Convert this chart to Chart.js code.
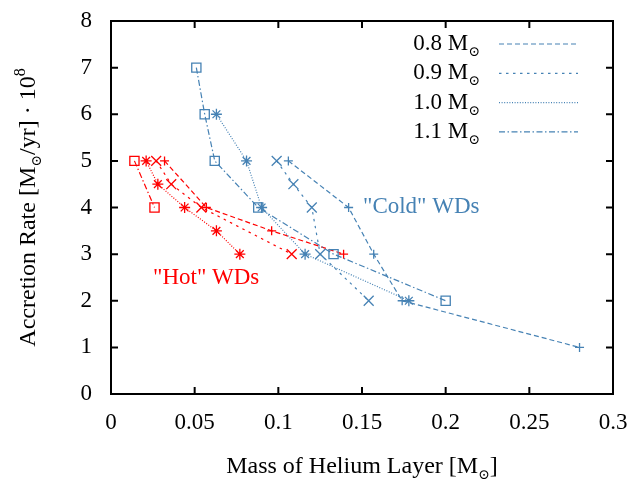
<!DOCTYPE html>
<html>
<head>
<meta charset="utf-8">
<script src="https://cdn.jsdelivr.net/npm/chart.js@4.4.1/dist/chart.umd.min.js"></script>
<style>
  body { margin: 0; background: #fff; }
</style>
</head>
<body>
<canvas id="plot" width="643" height="479"></canvas>
<script>
// Helium layer mass [Msun] vs accretion rate [1e-8 Msun/yr]
// "cold" white dwarfs
const cold08_x = [0.106, 0.142, 0.157, 0.174, 0.280];
const cold08_y = [5, 4, 3, 2, 1];
const cold09_x = [0.099, 0.109, 0.120, 0.125, 0.154];
const cold09_y = [5, 4.5, 4, 3, 2];
const cold10_x = [0.063, 0.081, 0.090, 0.116, 0.178];
const cold10_y = [6, 5, 4, 3, 2];
const cold11_x = [0.051, 0.056, 0.062, 0.088, 0.133, 0.200];
const cold11_y = [7, 6, 5, 4, 3, 2];

// "hot" white dwarfs
const hot08_x = [0.032, 0.057, 0.096, 0.139];
const hot08_y = [5, 4, 3.5, 3];
const hot09_x = [0.027, 0.036, 0.054, 0.108];
const hot09_y = [5, 4.5, 4, 3];
const hot10_x = [0.021, 0.028, 0.044, 0.063, 0.077];
const hot10_y = [5, 4.5, 4, 3.5, 3];
const hot11_x = [0.014, 0.026];
const hot11_y = [5, 4];

const masses = ['0.8', '0.9', '1.0', '1.1'];
const xTicks = [0, 0.05, 0.1, 0.15, 0.2, 0.25, 0.3];
const yTicks = [0, 1, 2, 3, 4, 5, 6, 7, 8];

const FONT = "'Liberation Serif', 'DejaVu Serif', serif";
const FS = 23;
const SUN = '\u2299';
const BLUE = '#4682b4';
const RED = '#ff0000';

// line/point style per white dwarf mass
const styles = {
  '0.8': { dash: [5, 3], point: 'cross', r: 4.5 },
  '0.9': { dash: [2.5, 4.5], point: 'crossRot', r: 7 },
  '1.0': { dash: [1, 1.6], point: 'star', r: 5.5 },
  '1.1': { dash: [6, 2.5, 1.5, 2.5], point: 'rect', r: 6.5 }
};

function series(xs, ys, mass, color) {
  const s = styles[mass];
  return {
    label: mass,
    data: xs.map((x, i) => ({ x: x, y: ys[i] })),
    showLine: true,
    tension: 0,
    borderColor: color,
    borderWidth: 1.2,
    borderDash: s.dash,
    pointStyle: s.point,
    pointRadius: s.r,
    pointBorderColor: color,
    pointBackgroundColor: 'rgba(0,0,0,0)',
    pointBorderWidth: 1.3
  };
}

const datasets = [
  series(cold08_x, cold08_y, '0.8', BLUE),
  series(cold09_x, cold09_y, '0.9', BLUE),
  series(cold10_x, cold10_y, '1.0', BLUE),
  series(cold11_x, cold11_y, '1.1', BLUE),
  series(hot08_x, hot08_y, '0.8', RED),
  series(hot09_x, hot09_y, '0.9', RED),
  series(hot10_x, hot10_y, '1.0', RED),
  series(hot11_x, hot11_y, '1.1', RED)
];

// text labels placed at data coordinates
const coldLabel = { text: '"Cold" WDs', x: 0.1506, y: 3.89, color: BLUE };
const hotLabel = { text: '"Hot" WDs', x: 0.0251, y: 2.36, color: RED };

// draws text pieces [text, size, baselineShift] one after another
function drawRich(ctx, parts, x, y, align) {
  let w = 0;
  parts.forEach(p => { ctx.font = p[1] + 'px ' + FONT; w += ctx.measureText(p[0]).width; });
  let cx = align === 'right' ? x - w : (align === 'center' ? x - w / 2 : x);
  ctx.textAlign = 'left';
  ctx.textBaseline = 'alphabetic';
  parts.forEach(p => {
    ctx.font = p[1] + 'px ' + FONT;
    ctx.fillText(p[0], cx, y + p[2]);
    cx += ctx.measureText(p[0]).width;
  });
}

const framePlugin = {
  id: 'frame',
  afterDraw(chart) {
    const ctx = chart.ctx;
    const a = chart.chartArea;
    const xs = chart.scales.x, ys = chart.scales.y;
    ctx.save();
    ctx.strokeStyle = '#000';
    ctx.lineWidth = 2;
    ctx.setLineDash([]);
    ctx.strokeRect(a.left, a.top, a.right - a.left, a.bottom - a.top);
    const tl = 7;
    ctx.beginPath();
    xTicks.forEach(v => {
      const px = xs.getPixelForValue(v);
      ctx.moveTo(px, a.bottom); ctx.lineTo(px, a.bottom - tl);
      ctx.moveTo(px, a.top); ctx.lineTo(px, a.top + tl);
    });
    yTicks.forEach(v => {
      const py = ys.getPixelForValue(v);
      ctx.moveTo(a.left, py); ctx.lineTo(a.left + tl, py);
      ctx.moveTo(a.right, py); ctx.lineTo(a.right - tl, py);
    });
    ctx.stroke();

    // legend
    ctx.fillStyle = '#000';
    masses.forEach((m, i) => {
      const base = 50 + i * 29.3;
      drawRich(ctx, [[m + ' M', FS, 0], [SUN, 14, 6]], 480, base, 'right');
      const s = styles[m];
      ctx.strokeStyle = BLUE;
      ctx.lineWidth = 1.2;
      ctx.setLineDash(s.dash);
      ctx.beginPath();
      ctx.moveTo(499, base - 6);
      ctx.lineTo(578, base - 6);
      ctx.stroke();
    });
    ctx.setLineDash([]);

    // annotations
    [coldLabel, hotLabel].forEach(l => {
      ctx.fillStyle = l.color;
      drawRich(ctx, [[l.text, FS, 0]], xs.getPixelForValue(l.x), ys.getPixelForValue(l.y), 'left');
    });

    // axis titles
    ctx.fillStyle = '#000';
    drawRich(ctx, [['Mass of Helium Layer [M', 24, 0], [SUN, 14, 6], [']', 24, 0]],
      (a.left + a.right) / 2, 473, 'center');
    ctx.save();
    ctx.translate(35, (a.top + a.bottom) / 2);
    ctx.rotate(-Math.PI / 2);
    drawRich(ctx, [['Accretion Rate [M', 24, 0], [SUN, 14, 6], ['/yr] \u00b7 10', 24, 0], ['8', 16, -10]],
      0, 0, 'center');
    ctx.restore();
    ctx.restore();
  }
};

new Chart(document.getElementById('plot'), {
  type: 'scatter',
  data: { datasets: datasets },
  options: {
    responsive: false,
    animation: false,
    layout: { padding: { top: 21, right: 30, left: 0, bottom: 0 } },
    plugins: { legend: { display: false }, tooltip: { enabled: false } },
    scales: {
      x: {
        type: 'linear', min: 0, max: 0.3,
        afterBuildTicks: s => { s.ticks = xTicks.map(v => ({ value: v })); },
        afterFit: s => { s.height = 85; s.paddingLeft = 0; s.paddingRight = 0; },
        grid: { display: false, drawTicks: false },
        border: { display: false },
        ticks: { color: '#000', font: { family: FONT, size: FS }, padding: 15, maxRotation: 0,
          callback: v => String(v) }
      },
      y: {
        type: 'linear', min: 0, max: 8,
        afterBuildTicks: s => { s.ticks = yTicks.map(v => ({ value: v })); },
        afterFit: s => { s.width = 111; s.paddingTop = 0; s.paddingBottom = 0; },
        grid: { display: false, drawTicks: false },
        border: { display: false },
        ticks: { color: '#000', font: { family: FONT, size: FS }, padding: 19,
          callback: v => String(v) }
      }
    }
  },
  plugins: [framePlugin]
});
</script>
</body>
</html>
